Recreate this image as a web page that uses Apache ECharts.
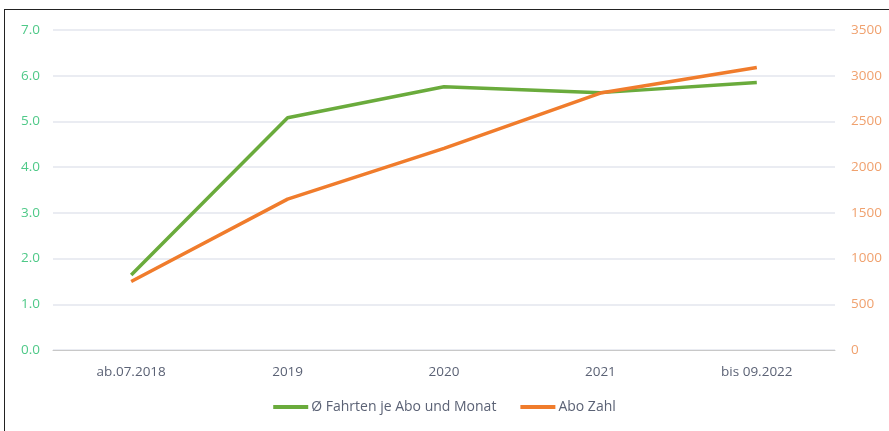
<!DOCTYPE html>
<html><head><meta charset="utf-8">
<script src="https://cdn.jsdelivr.net/npm/echarts@6/dist/echarts.min.js"></script>
<style>
html,body{margin:0;padding:0;background:#fff;}
#frame{position:absolute;left:4px;top:9px;width:890px;height:430px;border-left:1.5px solid #222;border-top:1.5px solid #222;box-sizing:border-box;}
#c{position:absolute;left:0;top:0;width:889px;height:431px;}
</style></head>
<body>
<div id="frame"></div>
<div id="c"></div>
<script>
const categories = ['ab.07.2018', '2019', '2020', '2021', 'bis 09.2022'];
const fahrten = [1.64, 5.08, 5.76, 5.63, 5.85];
const aboZahl = [750, 1650, 2205, 2810, 3090];
const leftTicks = [0, 7, 1];
const rightTicks = [0, 3500, 500];

const chart = echarts.init(document.getElementById('c'));
const font = 'Open Sans, Lato, sans-serif';
chart.setOption({
  animation: false,
  grid: { left: 53, right: 54, top: 30, bottom: 81, containLabel: false },
  legend: {
    bottom: 12, left: 'center', itemWidth: 35, itemHeight: 4, itemGap: 24,
    icon: 'rect',
    textStyle: { color: '#5b6275', fontSize: 14, fontFamily: font, padding: [0, 0, 0, -2] },
    data: ['Ø Fahrten je Abo und Monat', 'Abo Zahl']
  },
  xAxis: {
    type: 'category', data: categories, boundaryGap: true,
    axisLine: { lineStyle: { color: '#c8c8c8', width: 1 } },
    axisTick: { show: false },
    axisLabel: { color: '#5b6275', fontSize: 13.5, fontFamily: font, margin: 15 }
  },
  yAxis: [
    { type: 'value', min: leftTicks[0], max: leftTicks[1], interval: leftTicks[2],
      axisLine: { show: false }, axisTick: { show: false },
      splitLine: { lineStyle: { color: '#e3e6ee', width: 1.5 } },
      axisLabel: { color: '#4fc988', fontSize: 13.5, fontFamily: font, margin: 13,
        formatter: v => v.toFixed(1) } },
    { type: 'value', min: rightTicks[0], max: rightTicks[1], interval: rightTicks[2],
      axisLine: { show: false }, axisTick: { show: false },
      splitLine: { show: false },
      axisLabel: { color: '#f0a16e', fontSize: 13.5, fontFamily: font, margin: 16,
        formatter: v => String(v) } }
  ],
  series: [
    { name: 'Ø Fahrten je Abo und Monat', type: 'line', yAxisIndex: 0, data: fahrten,
      symbol: 'none', lineStyle: { color: '#6aab3c', width: 3.5 }, itemStyle: { color: '#6aab3c' } },
    { name: 'Abo Zahl', type: 'line', yAxisIndex: 1, data: aboZahl,
      symbol: 'none', lineStyle: { color: '#f07c2c', width: 3.5 }, itemStyle: { color: '#f07c2c' } }
  ]
});
</script>
</body></html>
